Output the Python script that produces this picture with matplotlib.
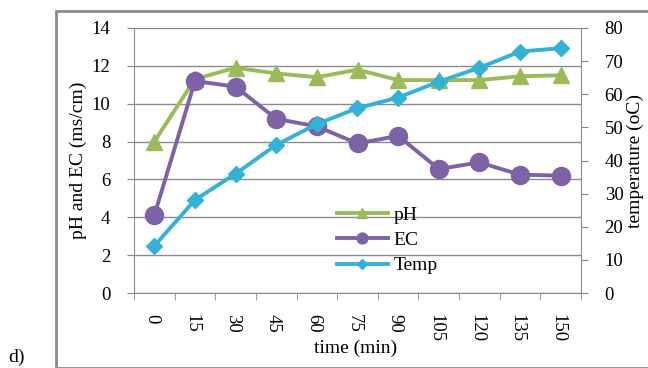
import matplotlib.pyplot as plt
import matplotlib.transforms as mtransforms
from matplotlib.patches import Rectangle
import numpy as np

plt.rcParams['font.family'] = ['Liberation Serif', 'DejaVu Serif']

# data
time_labels = ['0', '15', '30', '45', '60', '75', '90', '105', '120', '135', '150']
ph = [8.0, 11.3, 11.9, 11.6, 11.4, 11.8, 11.25, 11.25, 11.25, 11.45, 11.5]
ec = [4.1, 11.2, 10.9, 9.2, 8.8, 7.9, 8.3, 6.55, 6.9, 6.25, 6.2]
temp = [14.2, 28.1, 36.0, 44.7, 51.0, 55.8, 59.0, 63.8, 68.0, 72.9, 73.9]

c_ph = '#9bbb59'
c_ec = '#7e62a6'
c_temp = '#34b2d6'

fs = 14
fs_tick = 13.5

fig = plt.figure(figsize=(6.48, 3.68), dpi=100)
W, H = 648, 368

# outer chart frame
fig.patches.append(Rectangle((56 / W, 0 / H), 1.0, (H - 11) / H,
                             transform=fig.transFigure, fill=False,
                             edgecolor='#8a8a8a', linewidth=2))

ax = fig.add_axes([134 / W, 1 - 293 / H, (581 - 134) / W, (293 - 28) / H])
ax2 = ax.twinx()

x = np.arange(len(time_labels))

ax.plot(x, ph, color=c_ph, marker='^', markersize=11, linewidth=2.8, label='pH')
ax.plot(x, ec, color=c_ec, marker='o', markersize=13, linewidth=2.8, label='EC')
ax2.plot(x, temp, color=c_temp, marker='D', markersize=8, linewidth=2.8, label='Temp')

ax.set_xlim(-0.5, len(x) - 0.5)
ax.set_ylim(0, 14)
ax.set_yticks(np.arange(0, 15, 2))
ax2.set_ylim(0, 80)
ax2.set_yticks(np.arange(0, 81, 10))

ax.set_xticks(x)
ax.set_xticklabels(time_labels, rotation=-90)
ax.set_xticks(np.arange(-0.5, len(x), 1), minor=True)
ax.tick_params(axis='x', which='major', length=0, pad=15, labelsize=fs_tick)
ax.tick_params(axis='x', which='minor', length=5, color='#888888', direction='out')
ax.tick_params(axis='y', length=5, color='#888888', labelsize=fs_tick, pad=12)
ax2.tick_params(axis='y', length=5, color='#888888', labelsize=fs_tick, pad=12)

shift = mtransforms.ScaledTranslation(-3 / 100, 0, fig.dpi_scale_trans)
for lab in ax.get_xticklabels():
    lab.set_transform(lab.get_transform() + shift)

ax.grid(axis='y', color='#8c8c8c', linewidth=1)
ax.set_axisbelow(True)
for s in ['top', 'right']:
    ax.spines[s].set_visible(False)
for s in ['top', 'left', 'bottom']:
    ax2.spines[s].set_visible(False)
for a in (ax, ax2):
    for s in a.spines.values():
        s.set_color('#8c8c8c')

ax.set_xlabel('time (min)', fontsize=fs, va='center')
ax.xaxis.set_label_coords(0.495, -0.21)
ax.set_ylabel('pH and EC (ms/cm)', fontsize=fs, labelpad=3)
ax2.set_ylabel('temperature (oC)', fontsize=fs, va='center')
ax2.yaxis.set_label_coords(1.122, 0.5)

h1, l1 = ax.get_legend_handles_labels()
h2, l2 = ax2.get_legend_handles_labels()
leg = ax2.legend(h1 + h2, l1 + l2, loc='upper left',
                 bbox_to_anchor=((337 - 134) / (581 - 134), (293 - 206) / (293 - 28)),
                 frameon=False, fontsize=fs, handlelength=2.6, handletextpad=0.3,
                 labelspacing=0.4, markerscale=0.6, borderaxespad=0, borderpad=0)

fig.text(8 / W, 1 - 357 / H, 'd)', fontsize=fs, va='center', ha='left')

fig.savefig('out.png', dpi=100)
